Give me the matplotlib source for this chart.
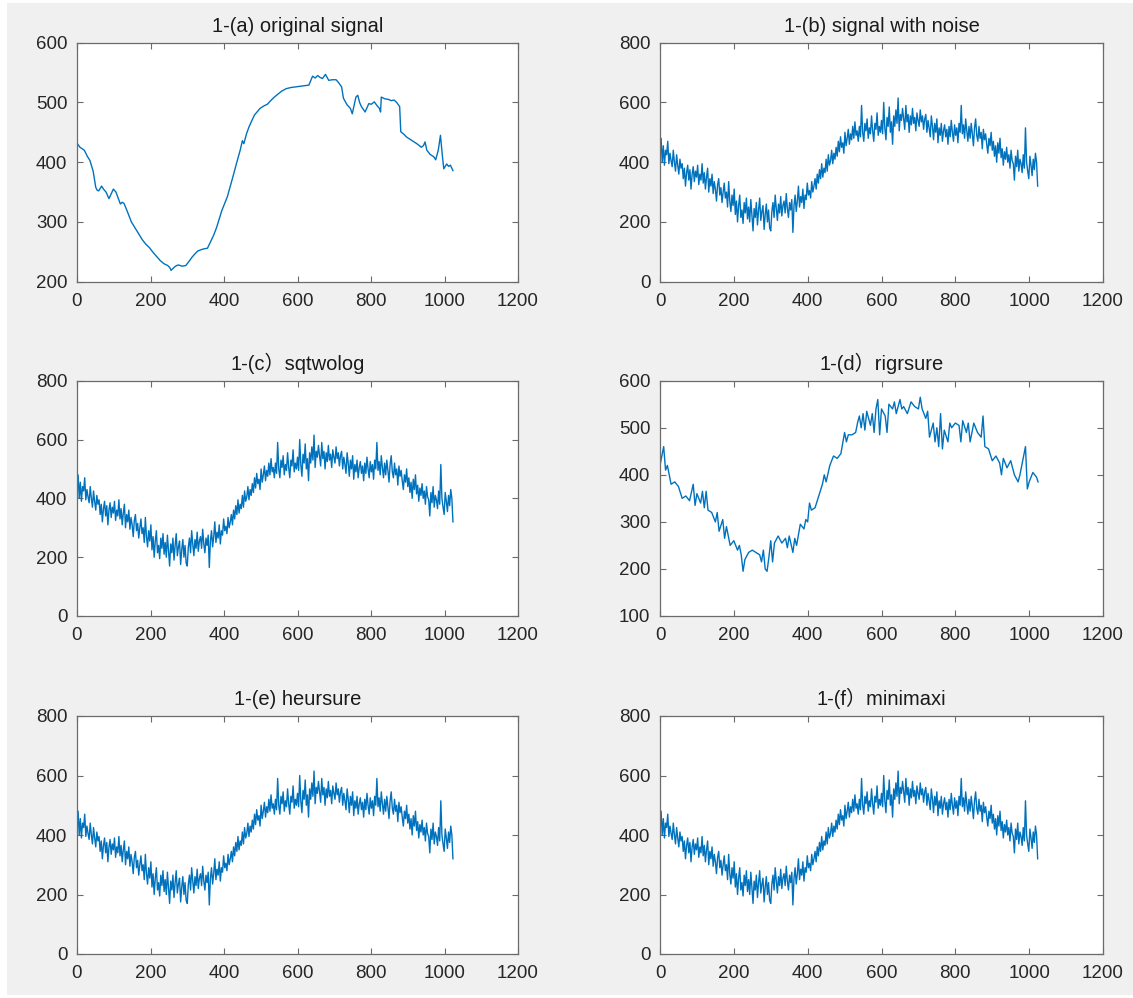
import numpy as np
import matplotlib
matplotlib.use("Agg")
from matplotlib import pyplot as plt
import matplotlib.patches as mpatches

# ---- data ----
# 1-(a) original signal: sample index / value
orig_x = [0, 8, 20, 28, 35, 44, 51, 55, 59, 63, 67, 72, 79, 87, 93, 99, 106, 112, 118, 123,
          128, 132, 136, 148, 158, 168, 178, 187, 197, 207, 217, 227, 237,
          247, 252, 256, 261, 266, 271, 276, 286, 296, 306, 313, 320, 328, 335, 345, 355, 365,
          372, 380, 394, 409, 424, 434, 444, 450,
          454, 461, 468, 476, 483, 491, 498, 508, 518, 527, 537, 547, 557, 569, 582, 594, 606,
          618, 631, 641, 648, 655, 661, 668, 676, 685, 695, 705, 712, 720,
          725, 735, 744, 749, 754, 759, 764, 769, 774, 784, 794, 801, 809, 816, 823, 826, 828,
          838, 848, 855, 863, 870, 878, 881,
          889, 897, 907, 917, 927, 937, 943, 947, 952, 961, 971, 976, 983, 989, 994, 998, 1006,
          1011, 1016, 1023]
orig_y = [432, 425, 420, 410, 403, 385, 358, 353, 352, 356, 360, 355, 350, 339, 347, 355, 350, 340, 330, 333,
          331, 325, 319, 300, 290, 280, 270, 263, 257, 249, 242, 235, 230,
          227, 224, 219, 222, 225, 227, 228, 226, 227, 235, 241, 246, 251, 253, 255, 256, 269,
          278, 291, 319, 342, 375, 398, 420, 436,
          431, 447, 459, 470, 479, 485, 490, 494, 497, 503, 509, 514, 519, 523, 525, 526, 527,
          528, 529, 544, 541, 545, 542, 540, 547, 537, 538, 538, 533, 526,
          507, 496, 490, 481, 495, 509, 512, 500, 493, 484, 498, 497, 501, 495, 490, 484, 509,
          506, 505, 503, 504, 500, 493, 451,
          447, 442, 438, 434, 430, 425, 428, 434, 420, 413, 409, 404, 420, 445, 412, 389, 397,
          393, 395, 386]

# signal with noise (same curve drawn in b, c, e, f), one value every 3 samples
noisy_y = [420, 480, 400, 455, 390, 440, 425, 470, 395, 430, 405, 385, 440, 400, 370, 425, 390, 360, 410, 380,
           395, 345, 380, 320, 365, 390, 340, 375, 310, 360, 385, 335, 370, 350, 390, 325, 360, 340, 395, 330,
           365, 310, 350, 380, 300, 345, 320, 360, 295, 335, 310, 270, 325, 345, 290, 315, 265, 300, 330, 280,
           300, 250, 335, 270, 235, 290, 255, 310, 225, 270, 200, 255, 290, 215, 240, 195, 265, 230, 280, 210,
           250, 200, 275, 225, 170, 245, 215, 265, 190, 240, 280, 205, 235, 255, 175, 225, 260, 200, 240, 180,
           170, 235, 265, 215, 290, 245, 205, 260, 230, 285, 220, 255, 270, 230, 295, 245, 215, 265, 240, 275,
           165, 255, 290, 235, 270, 320, 250, 285, 265, 310, 245, 290, 275, 330, 290, 305, 280, 335, 300, 320,
           345, 310, 360, 330, 375, 345, 395, 350, 380, 365, 410, 370, 425, 390, 405, 440, 395, 430, 410, 450,
           420, 470, 435, 485, 450, 465, 430, 500, 455, 480, 510, 460, 495, 475, 520, 480, 535, 490, 505, 470,
           520, 485, 590, 500, 470, 530, 505, 545, 480, 515, 495, 555, 505, 470, 530, 510, 565, 490, 520, 500,
           540, 495, 600, 515, 475, 550, 520, 585, 500, 535, 460, 555, 520, 575, 530, 615, 505, 560, 540, 580,
           545, 510, 590, 535, 560, 500, 555, 525, 580, 530, 550, 505, 565, 540, 520, 575, 535, 555, 510, 545,
           560, 500, 540, 515, 485, 555, 520, 475, 530, 500, 545, 465, 515, 490, 530, 470, 505, 525, 485, 510,
           460, 520, 485, 540, 500, 470, 525, 490, 515, 465, 530, 500, 590, 495, 525, 480, 545, 505, 470, 520,
           480, 530, 495, 455, 515, 545, 490, 470, 520, 480, 500, 445, 510, 475, 495, 460, 430, 480, 455, 500,
           440, 470, 420, 455, 400, 465, 430, 480, 415, 445, 390, 435, 410, 450, 400, 425, 380, 440, 405, 395,
           340, 420, 385, 440, 370, 410, 395, 365, 425, 380, 515, 400, 370, 345, 420, 390, 355, 410, 375, 430,
           400, 320]
noisy_x = np.arange(len(noisy_y)) * 3

# 1-(d) rigrsure
rig_x = [0, 10, 15, 20, 30, 40, 50, 60, 70, 80, 90, 95, 100, 110, 115, 120, 125, 130, 140,
         150, 155, 160, 170, 175, 180, 190, 200, 210, 215, 220, 225, 230, 240, 250, 260,
         270, 275, 280, 285, 290, 295, 300, 305, 310, 320, 330, 340, 345, 350, 360, 365,
         370, 380, 390, 395, 400, 405, 410, 420, 430, 440, 445, 450, 460, 470, 480, 490,
         500, 505, 510, 520, 530, 535, 540, 545, 550, 555, 560, 570, 575, 580, 585, 590,
         595, 600, 610, 615, 620, 630, 635, 640, 650, 655, 660, 670, 680, 690, 700, 705,
         710, 720, 725, 730, 740, 745, 750, 755, 760, 765, 770, 780, 785, 790, 800, 810,
         815, 820, 830, 835, 840, 850, 860, 870, 875, 880, 890, 900, 910, 920, 925, 930,
         940, 950, 960, 970, 975, 985, 990, 995, 1000, 1010, 1020, 1024]
rig_y = [420, 460, 410, 420, 380, 385, 375, 350, 355, 345, 380, 335, 360, 340, 365, 330, 365, 325, 320,
         300, 320, 280, 305, 265, 290, 250, 260, 240, 250, 230, 195, 220, 235, 240, 235,
         230, 215, 240, 200, 195, 225, 260, 215, 255, 270, 255, 265, 245, 270, 235, 265,
         250, 295, 285, 305, 300, 340, 325, 330, 355, 380, 400, 385, 420, 440, 435, 445,
         490, 470, 485, 485, 490, 510, 525, 500, 530, 495, 535, 505, 530, 490, 540, 560,
         485, 540, 525, 490, 550, 540, 555, 530, 560, 540, 545, 530, 555, 545, 540, 565,
         540, 520, 535, 480, 510, 470, 500, 460, 530, 455, 495, 470, 510, 500, 510, 505,
         470, 515, 490, 510, 470, 510, 490, 480, 525, 460, 455, 430, 440, 425, 400, 435,
         415, 430, 400, 385, 400, 440, 460, 370, 385, 405, 395, 385]

titles = ["1-(a) original signal", "1-(b) signal with noise", "1-(c\uff09sqtwolog",
          "1-(d\uff09rigrsure", "1-(e) heursure", "1-(f\uff09minimaxi"]
y_limits = [(200, 600), (0, 800), (0, 800), (100, 600), (0, 800), (0, 800)]
y_steps = [100, 200, 200, 100, 200, 200]

series = [(orig_x, orig_y), (noisy_x, noisy_y), (noisy_x, noisy_y),
          (rig_x, rig_y), (noisy_x, noisy_y), (noisy_x, noisy_y)]

# ---- figure ----
W, H = 1133, 998
fig = plt.figure(figsize=(W / 100, H / 100), dpi=100, facecolor="white")
fig.patches.append(mpatches.Rectangle((7 / W, 3 / H), 1 - 7 / W, 1 - 6 / H,
                                      transform=fig.transFigure, facecolor="#f0f0f0",
                                      edgecolor="none", zorder=-10))

plt.rcParams["font.family"] = ["Liberation Sans", "Noto Sans CJK SC", "DejaVu Sans"]

lefts = [77, 660]
widths = [441, 443]
rows = [(42.7, 281.7), (380.7, 616), (716, 954)]

line_color = "#0072BD"
edge = "#6b6b6b"
text_c = "#262626"

for i in range(6):
    r, c = divmod(i, 2)
    top, bot = rows[r]
    ax = fig.add_axes([lefts[c] / W, 1 - bot / H, widths[c] / W, (bot - top) / H])
    x, y = series[i]
    ax.plot(x, y, color=line_color, lw=1.0)
    ax.set_xlim(0, 1200)
    ax.set_xticks(np.arange(0, 1201, 200))
    lo, hi = y_limits[i]
    ax.set_ylim(lo, hi)
    ax.set_yticks(np.arange(lo, hi + 1, y_steps[i]))
    ax.tick_params(direction="in", top=True, right=True, length=4, width=0.8,
                   colors=edge, labelcolor=text_c, labelsize=13.5)
    ax.tick_params(axis="x", pad=8)
    ax.tick_params(axis="y", pad=7)
    for s in ax.spines.values():
        s.set_color(edge)
        s.set_linewidth(0.9)
    ax.set_title(titles[i], fontsize=14.5, color="#1a1a1a", pad=8)

plt.savefig("out.png", dpi=100, facecolor=fig.get_facecolor())
